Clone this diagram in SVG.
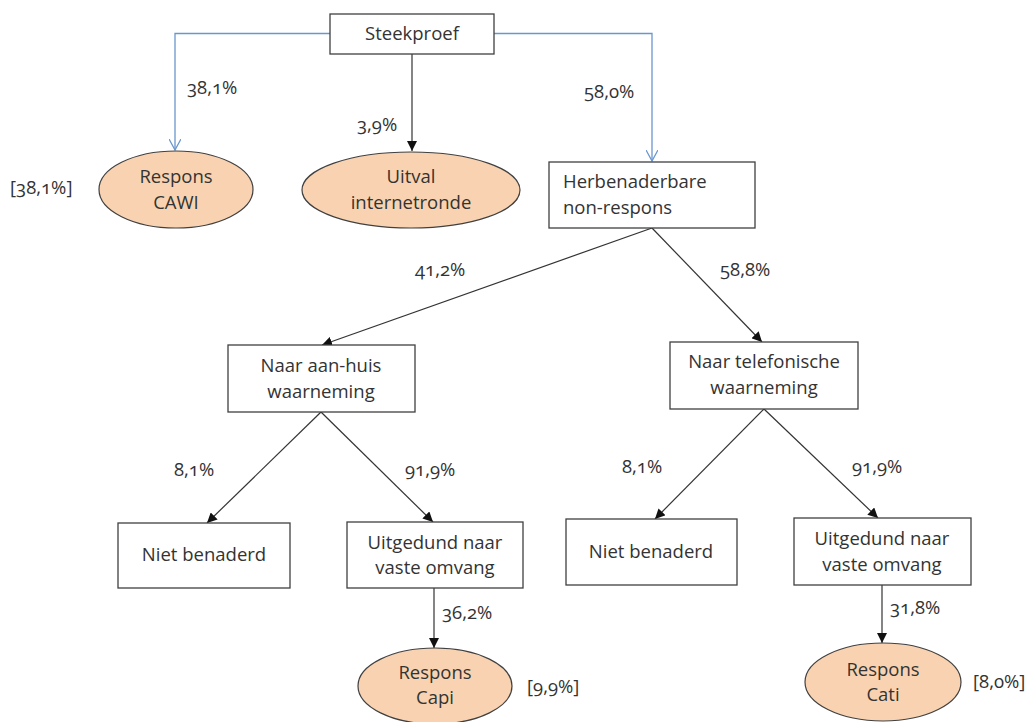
<svg xmlns="http://www.w3.org/2000/svg" width="1036" height="722" viewBox="0 0 1036 722">
<defs>
<style>
text{font-family:"Open Sans","Liberation Sans",sans-serif;font-size:18.5px;fill:#333;font-variant-numeric:oldstyle-nums;}
.c{text-anchor:middle;}
.box{fill:#fff;stroke:#404040;stroke-width:1.3;}
.ell{fill:#F9D3B1;stroke:#404040;stroke-width:1.2;}
.blk{fill:none;stroke:#333;stroke-width:1.2;}
.blu{fill:none;stroke:#6A96CF;stroke-width:1.3;}
</style>
<marker id="ab" viewBox="0 0 10 10" refX="10" refY="5" markerWidth="10" markerHeight="10" markerUnits="userSpaceOnUse" orient="auto">
<path d="M0,0 L10,5 L0,10 z" fill="#111"/>
</marker>
<marker id="ao" viewBox="0 0 12 12" refX="11" refY="6" markerWidth="12" markerHeight="12" markerUnits="userSpaceOnUse" orient="auto">
<path d="M0,0 L11,6 L0,12" fill="none" stroke="#6A96CF" stroke-width="1.3"/>
</marker>
</defs>
<g id="connectors">
<path class="blu" d="M330,33.5 H175 V150" marker-end="url(#ao)"/>
<path class="blu" d="M494,33.5 H652 V161" marker-end="url(#ao)"/>
<path class="blk" d="M412,54 V151" marker-end="url(#ab)"/>
<path class="blk" d="M652,228 L322,345" marker-end="url(#ab)"/>
<path class="blk" d="M652,228 L762,342" marker-end="url(#ab)"/>
<path class="blk" d="M321,412 L207,523" marker-end="url(#ab)"/>
<path class="blk" d="M321,412 L433,522" marker-end="url(#ab)"/>
<path class="blk" d="M434,588 V648" marker-end="url(#ab)"/>
<path class="blk" d="M764,409 L655,519" marker-end="url(#ab)"/>
<path class="blk" d="M764,409 L878,518" marker-end="url(#ab)"/>
<path class="blk" d="M882,585 V643" marker-end="url(#ab)"/>
</g>
<g id="labels">
<text x="187" y="94">38,1%</text>
<text x="357" y="131">3,9%</text>
<text x="10" y="194">[38,1%]</text>
<text x="584" y="98">58,0%</text>
<text x="415" y="276">41,2%</text>
<text x="720" y="276">58,8%</text>
<text x="174" y="476">8,1%</text>
<text x="405" y="476">91,9%</text>
<text x="622" y="473">8,1%</text>
<text x="852" y="473">91,9%</text>
<text x="442" y="619">36,2%</text>
<text x="890" y="614">31,8%</text>
<text x="527" y="693">[9,9%]</text>
<text x="973" y="688">[8,0%]</text>
</g>
<g id="steekproef">
<rect class="box" x="330" y="14" width="164" height="40"/>
<text class="c" x="412" y="40">Steekproef</text>
</g>
<g id="respons-cawi">
<ellipse class="ell" cx="176" cy="189.5" rx="77" ry="38.5"/>
<text class="c" x="176" y="183">Respons</text>
<text class="c" x="176" y="209">CAWI</text>
</g>
<g id="uitval">
<ellipse class="ell" cx="411" cy="190" rx="109" ry="38"/>
<text class="c" x="411" y="183">Uitval</text>
<text class="c" x="411" y="209">internetronde</text>
</g>
<g id="herbenaderbare">
<rect class="box" x="549" y="162" width="206" height="66"/>
<text x="563" y="188">Herbenaderbare</text>
<text x="563" y="214">non-respons</text>
</g>
<g id="aan-huis">
<rect class="box" x="228" y="345" width="187" height="67"/>
<text class="c" x="321" y="372">Naar aan-huis</text>
<text class="c" x="321" y="398">waarneming</text>
</g>
<g id="telefonisch">
<rect class="box" x="670" y="342" width="188" height="67"/>
<text class="c" x="764" y="368">Naar telefonische</text>
<text class="c" x="764" y="394">waarneming</text>
</g>
<g id="niet-benaderd-1">
<rect class="box" x="118" y="523" width="172" height="65"/>
<text class="c" x="204" y="561">Niet benaderd</text>
</g>
<g id="uitgedund-1">
<rect class="box" x="347" y="522" width="176" height="66"/>
<text class="c" x="435" y="549">Uitgedund naar</text>
<text class="c" x="435" y="574">vaste omvang</text>
</g>
<g id="respons-capi">
<ellipse class="ell" cx="435" cy="686" rx="77" ry="38"/>
<text class="c" x="435" y="679">Respons</text>
<text class="c" x="435" y="704">Capi</text>
</g>
<g id="niet-benaderd-2">
<rect class="box" x="566" y="519" width="171" height="66"/>
<text class="c" x="651" y="558">Niet benaderd</text>
</g>
<g id="uitgedund-2">
<rect class="box" x="794" y="518" width="177" height="67"/>
<text class="c" x="882" y="545">Uitgedund naar</text>
<text class="c" x="882" y="571">vaste omvang</text>
</g>
<g id="respons-cati">
<ellipse class="ell" cx="883" cy="682" rx="78" ry="39"/>
<text class="c" x="883" y="676">Respons</text>
<text class="c" x="883" y="701">Cati</text>
</g>
</svg>
